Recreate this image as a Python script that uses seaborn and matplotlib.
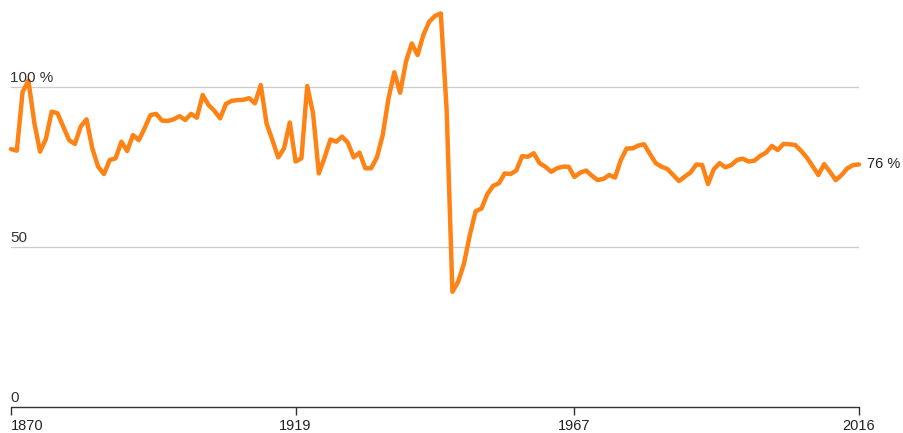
import matplotlib
matplotlib.use("Agg")
import matplotlib.pyplot as plt
import seaborn as sns
import pandas as pd
import numpy as np

years = list(range(1870, 2017))
values = [
    80.6, 80.1, 98.5, 102.0, 89.0, 79.8, 83.7, 92.3, 91.8, 87.6,   # 1870-1879
    83.4, 82.2, 87.6, 89.9, 80.8, 75.1, 72.8, 77.2, 77.7, 82.9,    # 1880-1889
    80.0, 85.0, 83.4, 87.1, 91.2, 91.6, 89.5, 89.4, 89.9, 90.9,    # 1890-1899
    89.7, 91.6, 90.4, 97.5, 94.4, 92.6, 90.2, 94.7, 95.7, 95.9,    # 1900-1909
    96.0, 96.5, 94.9, 100.6, 88.6, 83.4, 78.0, 80.8, 88.9, 76.7,   # 1910-1919
    77.7, 100.3, 91.8, 73.0, 78.0, 83.6, 82.9, 84.5, 82.6, 78.0,   # 1920-1929
    79.5, 74.6, 74.6, 78.0, 85.0, 96.5, 104.6, 98.2, 107.9, 113.6, # 1930-1939
    110.0, 116.3, 120.4, 122.2, 123.0, 93.0, 36.0, 39.2, 44.9, 53.8, # 1940-1949
    61.2, 62.0, 66.5, 69.1, 69.9, 73.0, 72.8, 73.9, 78.4, 78.2,    # 1950-1959
    79.3, 76.2, 75.1, 73.5, 74.6, 75.1, 75.1, 71.9, 73.2, 73.9,    # 1960-1969
    72.3, 70.9, 71.3, 72.5, 71.7, 77.2, 80.8, 80.8, 81.7, 82.1,    # 1970-1979
    79.1, 76.2, 75.1, 74.4, 72.5, 70.6, 72.0, 73.3, 75.8, 75.6,    # 1980-1989
    69.7, 74.3, 76.2, 74.9, 75.6, 77.2, 77.6, 76.7, 77.0, 78.5,    # 1990-1999
    79.5, 81.6, 80.3, 82.2, 82.1, 81.9, 80.1, 78.0, 75.3, 72.5,    # 2000-2009
    75.9, 73.5, 70.9, 72.5, 74.6, 75.6, 75.8,                      # 2010-2016
]
xticks = [1870, 1919, 1967, 2016]
ygrid = [0, 50, 100]
ylabels = ["0", "50", "100 %"]
end_label = "76 %"

df = pd.DataFrame({"year": years, "value": values})

sns.set_style("white")
plt.rcParams["font.family"] = ["Liberation Sans", "DejaVu Sans"]

W, H = 904, 433
fig = plt.figure(figsize=(W / 100, H / 100), dpi=100)
ax = fig.add_axes([11 / W, 26 / H, 848 / W, 407 / H])

for g in ygrid[1:]:
    ax.axhline(g, color="#cccccc", lw=0.9, zorder=1)
ax.axhline(0, color="#333333", lw=1.0, zorder=2, clip_on=False)

sns.lineplot(data=df, x="year", y="value", ax=ax, color="#ff8214",
             lw=3.2, zorder=3, clip_on=False)

ax.set_xlim(1870, 2016)
ax.set_ylim(0, 407 / 3.2)
for s in ax.spines.values():
    s.set_visible(False)

ax.set_yticks([])
ax.set_xticks(xticks)
ax.set_xticklabels([str(t) for t in xticks])
ax.tick_params(axis="x", direction="out", length=6, width=1.0,
               color="#333333", labelsize=10.5, labelcolor="#222222", pad=3,
               bottom=True)
labs = ax.get_xticklabels()
labs[0].set_ha("left")
ax.set_xlabel("")
ax.set_ylabel("")

for g, lab in zip(ygrid, ylabels):
    ax.annotate(lab, xy=(1870, g), xytext=(-0.5, 1.5), textcoords="offset points",
                ha="left", va="bottom", fontsize=11, color="#333333")

ax.annotate(end_label, xy=(2016, values[-1]), xytext=(6, 0),
            textcoords="offset points", ha="left", va="center",
            fontsize=10.5, color="#222222", annotation_clip=False)

fig.savefig("out.png", dpi=100)
